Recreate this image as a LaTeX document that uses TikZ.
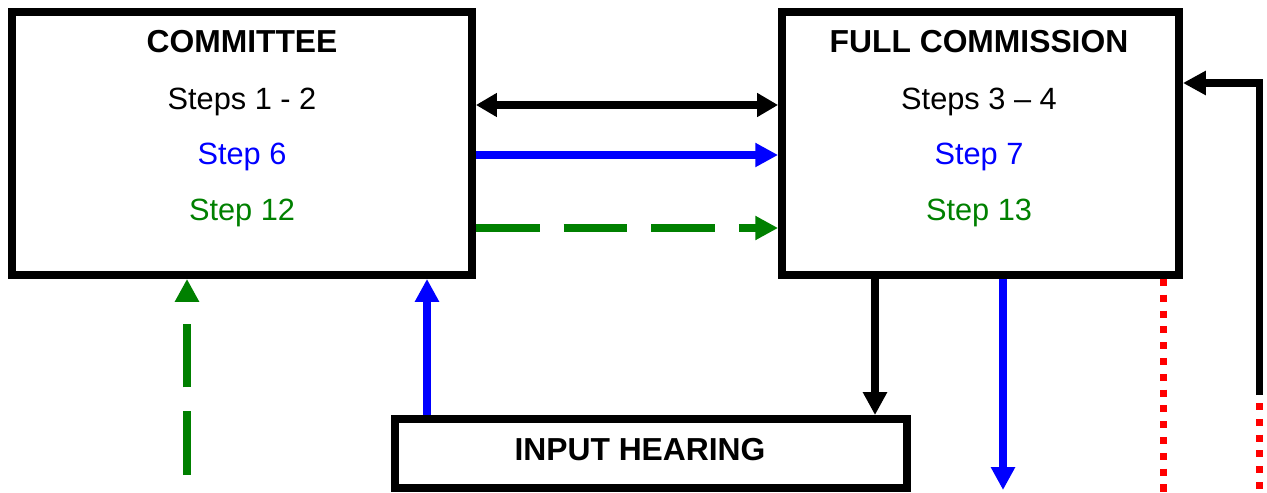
\documentclass[tikz,border=0pt]{standalone}
\usepackage{fontspec}
\setmainfont{Liberation Sans}
\usetikzlibrary{arrows.meta}
\definecolor{stepgreen}{RGB}{0,128,0}

\begin{document}
\begin{tikzpicture}[x=0.02cm, y=-0.02cm, font=\fontsize{17.5}{21}\selectfont,
    box/.style={draw, line width=4.5pt, inner sep=0pt},
    lbl/.style={anchor=base},
    ttl/.style={anchor=base, font=\fontsize{18.1}{22}\selectfont\bfseries},
    tip/.style={-{Triangle[length=13pt,width=13pt]}},
    both/.style={{Triangle[length=12pt,width=13pt]}-{Triangle[length=12pt,width=13pt]}},
    blackline/.style={draw=black, line width=4pt},
    blueline/.style={draw=blue, line width=4.25pt},
    greenline/.style={draw=stepgreen, line width=4pt, dash pattern=on 36.3pt off 13.6pt},
    reddots/.style={draw=red, line width=4pt, dash pattern=on 4pt off 5pt}]
      \useasboundingbox (0,0) rectangle (1267,493);
      \node[box, minimum width=9.2cm, minimum height=5.26cm] (comm) at (242,143.5) {};
      \node[box, minimum width=7.94cm, minimum height=5.26cm] (full) at (980.5,143.5) {};
      \node[box, minimum width=10.24cm, minimum height=1.38cm] (hear) at (651,453.5) {};
      \node[ttl] (commtitle) at (242,53) {COMMITTEE};
      \node[lbl] (commsteps) at (242,110) {Steps 1 - 2};
      \node[lbl, blue] (commsix) at (242,165) {Step 6};
      \node[lbl, stepgreen] (commtwelve) at (242,220) {Step 12};
      \node[ttl] (fulltitle) at (979,53) {FULL COMMISSION};
      \node[lbl] (fullsteps) at (979,110) {Steps 3 – 4};
      \node[lbl, blue] (fullseven) at (979,165) {Step 7};
      \node[lbl, stepgreen] (fullthirteen) at (979,220) {Step 13};
      \node[ttl] (heartitle) at (640,460) {INPUT HEARING};
      \coordinate (g) at (187,475);
      \coordinate (b) at (1003,490);
      \coordinate (r1) at (1163,493);
      \coordinate (l) at (1259,395);
      \coordinate (r2top) at (1259,403);
      \coordinate (r2) at (1259,493);
      \draw[blackline, both] (comm.east |- 0,105) -- (full.west |- 0,105);
      \draw[blueline, tip] (comm.east |- 0,155) -- (full.west |- 0,155);
      \draw[greenline, tip] (comm.east |- 0,228) -- (full.west |- 0,228);
      \draw[greenline, tip] (g) -- (g |- comm.south);
      \draw[blueline, tip] (hear.north -| 427,0) -- (comm.south -| 427,0);
      \draw[blackline, tip] (full.south -| 875,0) -- (hear.north -| 875,0);
      \draw[blueline, tip] (full.south -| b) -- (b);
      \draw[reddots] (full.south -| r1) -- (r1);
      \draw[blackline, tip] (l) -- (l |- 0,83) -- (full.east |- 0,83);
      \draw[reddots] (r2top) -- (r2);
    \end{tikzpicture}
\end{document}
